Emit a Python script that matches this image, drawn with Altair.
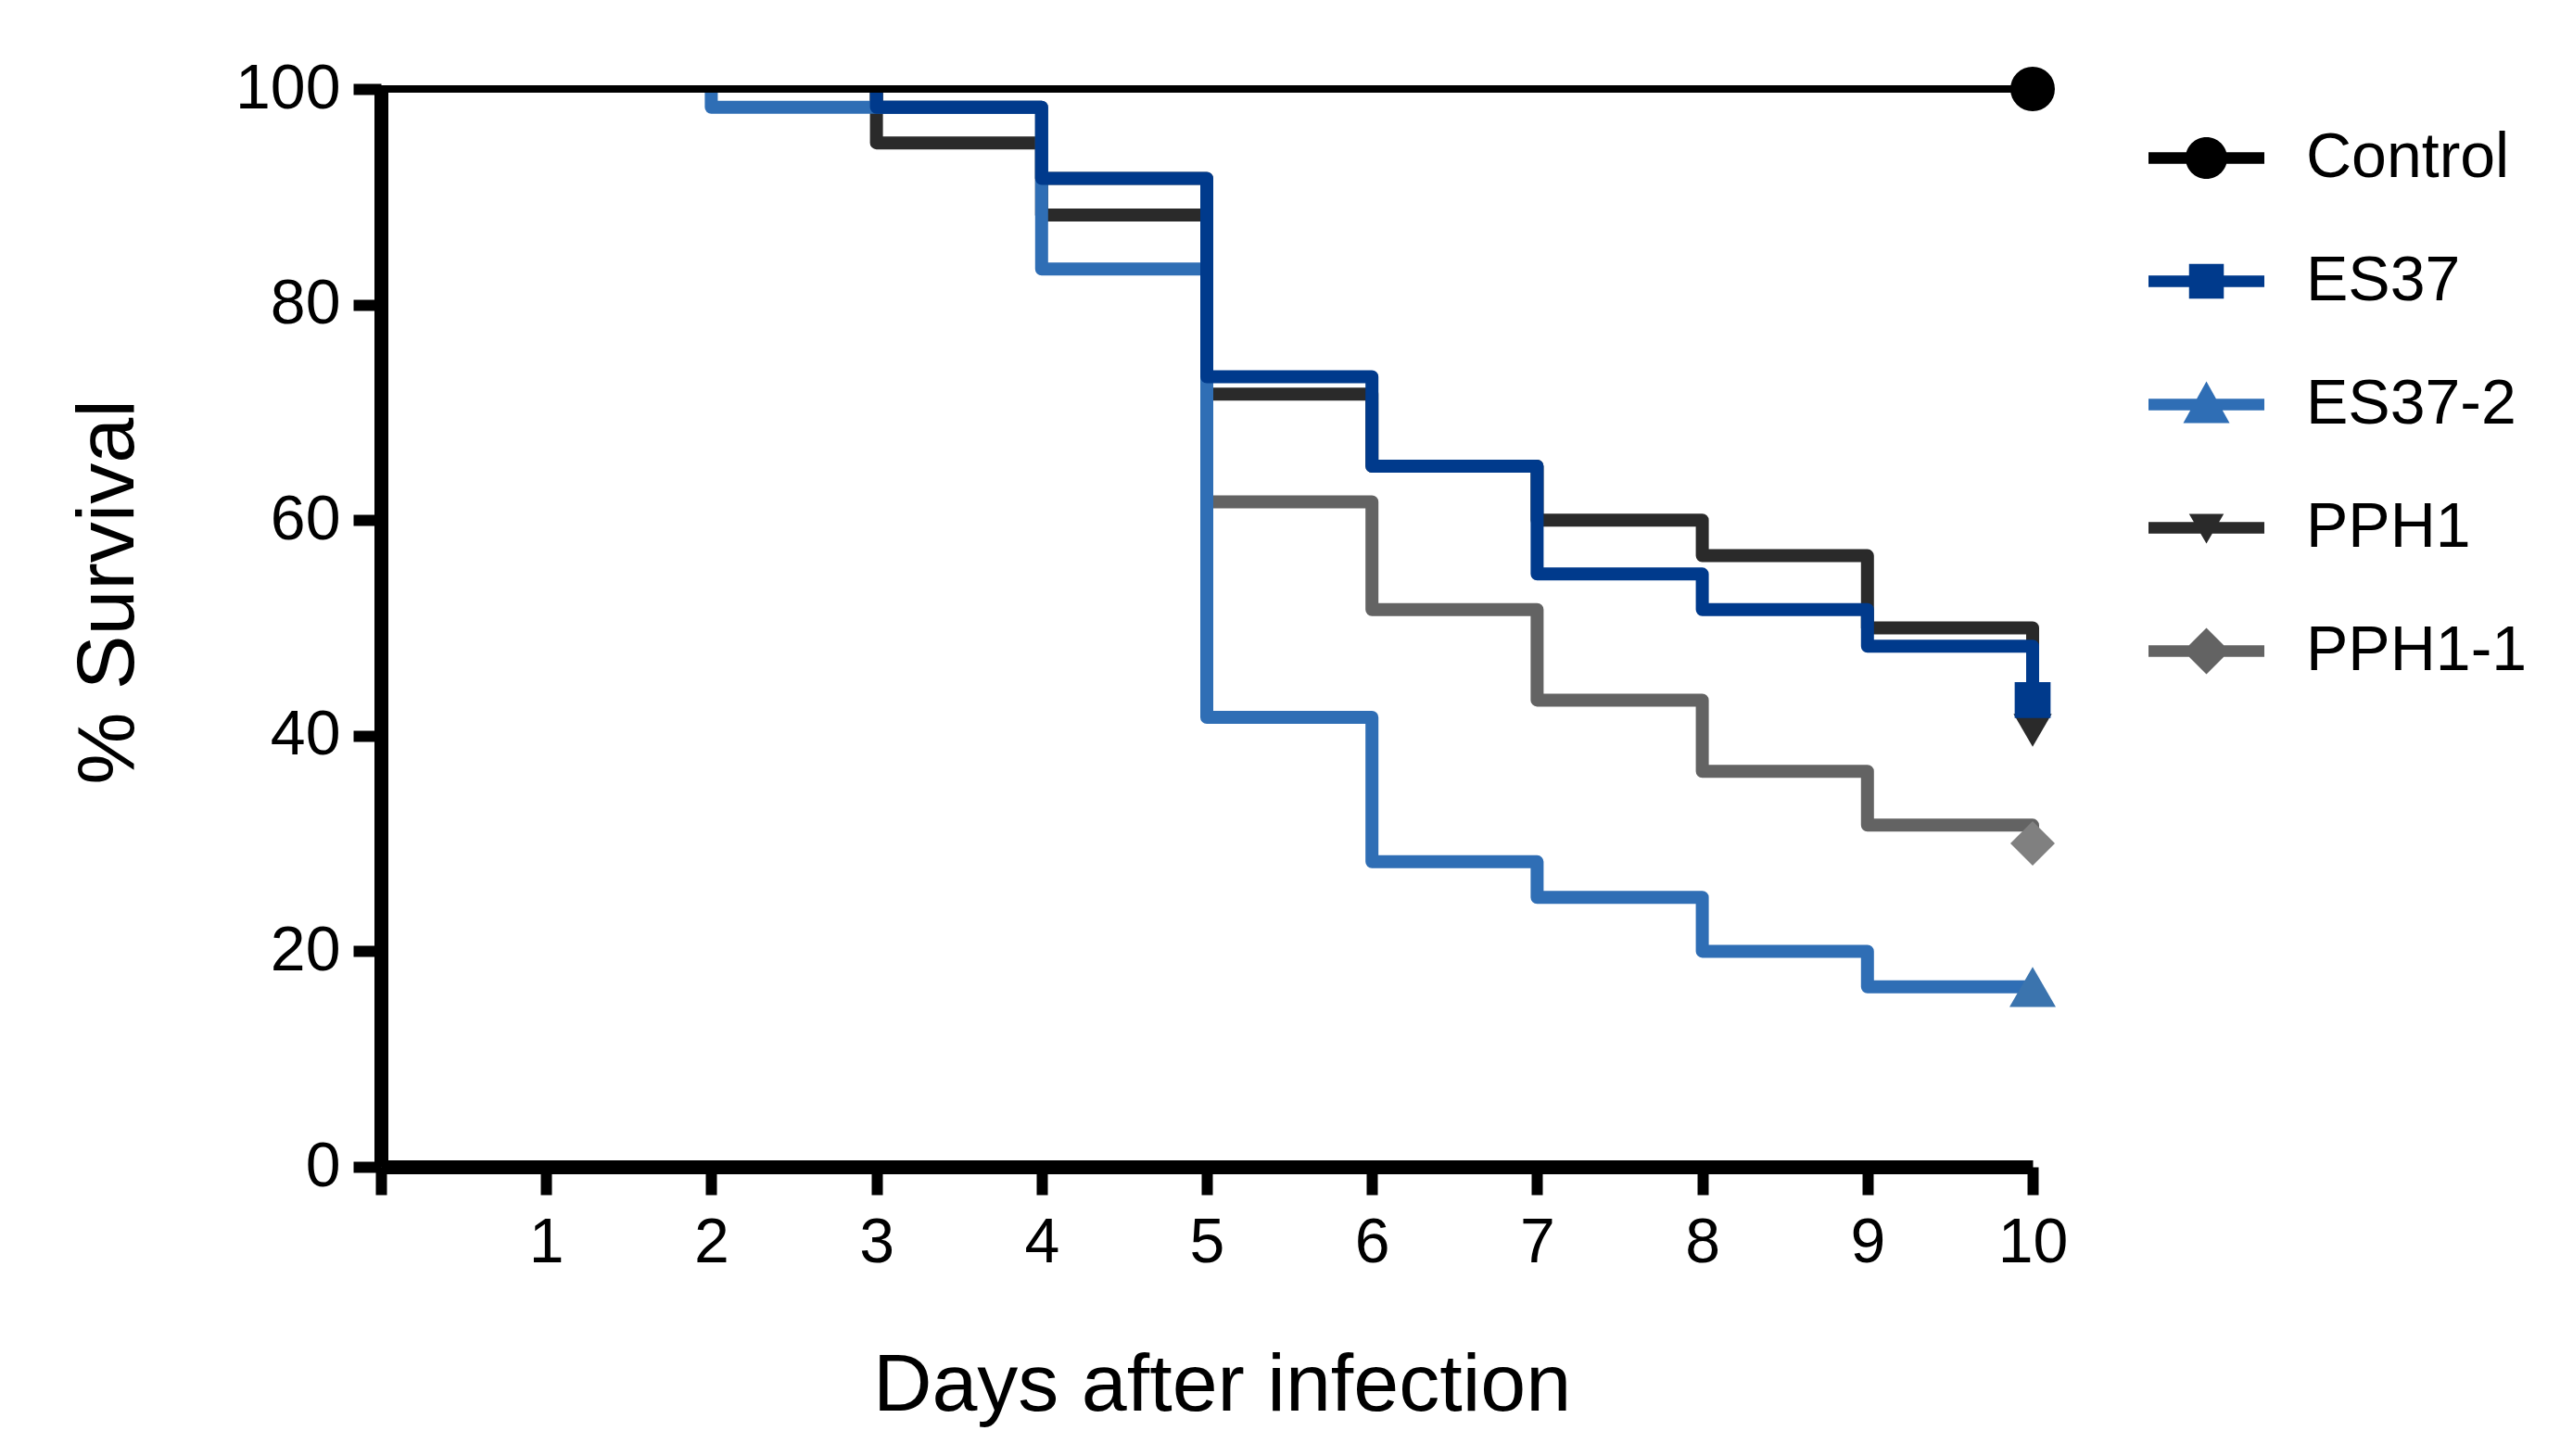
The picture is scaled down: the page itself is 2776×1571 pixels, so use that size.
import altair as alt
import pandas as pd

# ---- data ----
series = ["Control", "ES37", "ES37-2", "PPH1", "PPH1-1"]
line_colors = ["#000000", "#003a8c", "#2f6eb5", "#2a2a2a", "#636363"]
marker_colors = ["#000000", "#003a8c", "#3b74ae", "#2a2a2a", "#808080"]
marker_shapes = ["circle", "square", "triangle-up", "triangle-down", "diamond"]
marker_sizes = [2300, 1500, 2500, 1700, 2300]
line_widths = [8, 14, 14, 14, 14]

# each curve starts where it first leaves 100 % (before that it lies under Control)
control_days = [0, 10]
control_surv = [100, 100]
es37_days = [3, 3, 4, 5, 6, 7, 8, 9, 10]
es37_surv = [100, 98.3, 91.7, 73.3, 65, 55, 51.7, 48.3, 43.3]
es37_2_days = [2, 2, 4, 5, 6, 7, 8, 9, 10]
es37_2_surv = [100, 98.3, 83.3, 41.7, 28.3, 25, 20, 16.7, 16.7]
pph1_days = [3, 3, 4, 5, 6, 7, 8, 9, 10]
pph1_surv = [100, 95, 88.3, 71.7, 65, 60, 56.7, 50, 40.5]
pph1_1_days = [3, 3, 4, 5, 6, 7, 8, 9, 10]
pph1_1_surv = [100, 98.3, 91.7, 61.7, 51.7, 43.3, 36.7, 31.7, 30]

x_ticks = [0, 1, 2, 3, 4, 5, 6, 7, 8, 9, 10]
y_ticks = [0, 20, 40, 60, 80, 100]

# legend symbols: a line segment plus the marker, as custom paths in [-1, 1]
bar = "M-1,-0.1H1V0.1H-1Z"
legend_paths = [
    bar + "M0.36,0A0.36,0.36 0 1,1 -0.36,0A0.36,0.36 0 1,1 0.36,0Z",
    bar + "M-0.3,-0.3H0.3V0.3H-0.3Z",
    bar + "M0,-0.4L0.4,0.32L-0.4,0.32Z",
    bar + "M-0.3,-0.24L0.3,-0.24L0,0.27Z",
    bar + "M0,-0.4L0.4,0L0,0.4L-0.4,0Z",
]

curves = {
    "Control": (control_days, control_surv),
    "ES37": (es37_days, es37_surv),
    "ES37-2": (es37_2_days, es37_2_surv),
    "PPH1": (pph1_days, pph1_surv),
    "PPH1-1": (pph1_1_days, pph1_1_surv),
}

rows = []
for s, (d, v) in curves.items():
    for k, (di, vi) in enumerate(zip(d, v)):
        rows.append({"series": s, "day": di, "surv": vi, "idx": k})
df = pd.DataFrame(rows)

# end-of-curve markers (drawing order: bottom to top)
draw_order = ["PPH1-1", "PPH1", "ES37-2", "ES37", "Control"]
mrows = []
for s in draw_order:
    i = series.index(s)
    d, v = curves[s]
    mrows.append({"series": s, "day": d[-1], "surv": v[-1],
                  "shape": marker_shapes[i], "mcolor": marker_colors[i],
                  "msize": marker_sizes[i]})
mdf = pd.DataFrame(mrows)

FONT = "Liberation Sans"
W, H = 1782, 1163

x_enc = alt.X("day:Q", scale=alt.Scale(domain=[0, 10], nice=False, zero=False),
              axis=alt.Axis(values=x_ticks,
                            labelExpr="datum.value == 0 ? '' : datum.label",
                            labelFlush=False, titleX=W / 2 + 16,
                            title="Days after infection", grid=False))
y_enc = alt.Y("surv:Q", scale=alt.Scale(domain=[0, 100], nice=False),
              axis=alt.Axis(values=y_ticks, title="% Survival", grid=False,
                            labelFlush=False, titleY=H / 2 - 39))

layers = []
for s in draw_order:
    i = series.index(s)
    layers.append(
        alt.Chart(df).transform_filter(alt.datum.series == s).mark_line(
            interpolate="step-after", color=line_colors[i],
            strokeWidth=line_widths[i], strokeJoin="round", strokeCap="butt"
        ).encode(x=x_enc, y=y_enc, order=alt.Order("idx:Q"))
    )

markers = alt.Chart(mdf).mark_point(filled=True, opacity=1).encode(
    x=x_enc, y=y_enc,
    shape=alt.Shape("shape:N", scale=None),
    color=alt.Color("mcolor:N", scale=None),
    size=alt.Size("msize:Q", scale=None),
)
layers.append(markers)

leg = dict(title=None, orient="none", legendX=1907, legendY=12,
           symbolSize=15625, symbolOpacity=1, symbolStrokeWidth=0,
           labelFontSize=68, labelFont=FONT, labelColor="#000000",
           labelOffset=45, rowPadding=36, padding=0, labelLimit=600)

legend_layer = alt.Chart(mdf).mark_point(filled=True, opacity=0).encode(
    x=x_enc, y=y_enc,
    color=alt.Color("series:N", scale=alt.Scale(domain=series, range=line_colors),
                    legend=alt.Legend(**leg)),
    shape=alt.Shape("series:N", scale=alt.Scale(domain=series, range=legend_paths),
                    legend=alt.Legend(**leg)),
)
layers.insert(0, legend_layer)

chart = alt.layer(*layers).properties(
    width=W, height=H,
    autosize=alt.AutoSizeParams(type="none"),
    padding={"left": 403, "top": 88, "right": 575, "bottom": 300},
).configure_view(stroke=None).configure_axis(
    domainColor="#000000", domainWidth=15, tickColor="#000000", tickWidth=12,
    tickSize=30, labelFont=FONT, labelFontSize=68, labelColor="#000000",
    labelPadding=18, titleFont=FONT, titleFontSize=88, titleFontWeight="normal",
    titleColor="#000000",
).configure_axisX(titlePadding=76).configure_axisY(titlePadding=92, labelPadding=14)

chart.save("out.html", embed_options={"renderer": "svg", "actions": False})
